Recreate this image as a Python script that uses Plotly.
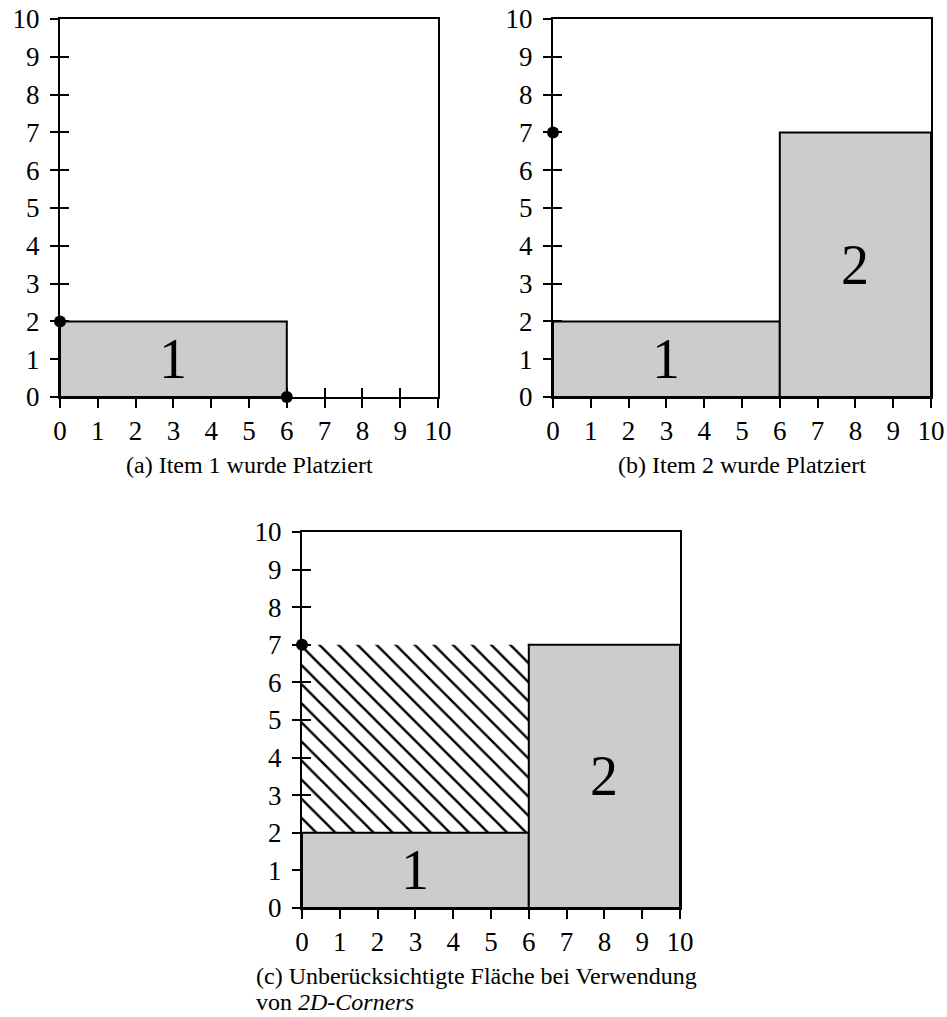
import plotly.graph_objects as go

# Grid ticks shared by every panel
ticks = list(range(0, 11))

# Placed items: id, x-extent, y-extent
item_ids = ["1", "2"]
item_x = [(0, 6), (6, 10)]
item_y = [(0, 2), (0, 7)]
item_label_pos = [(3, 1), (8, 3.5)]

# Which items are shown in each panel
panel_items = [[0], [0, 1], [0, 1]]

# Candidate corner points per panel
corner_x = [[0, 6], [0], [0]]
corner_y = [[2, 0], [7], [7]]

# Area that is not considered (panel c only)
gap_x = (0, 6)
gap_y = (2, 7)

captions = [
    ["(a) Item 1 wurde Platziert"],
    ["(b) Item 2 wurde Platziert"],
    ["(c) Unberücksichtigte Fläche bei Verwendung", "von <i>2D-Corners</i>"],
]

W, H = 947, 1017
FONT = "Liberation Serif"
GREY = "#cccccc"

# Panel boxes in pixels: left, right, top, bottom
panel_px = [(60, 438, 19, 397), (553, 931, 19, 397), (302, 680, 532, 908)]

fig = go.Figure()
layout = dict(
    template="none",
    width=W, height=H,
    margin=dict(l=0, r=0, t=0, b=0, pad=0, autoexpand=False),
    paper_bgcolor="white", plot_bgcolor="white",
    showlegend=False,
    font=dict(family=FONT, color="black"),
)
annotations = []

for p, (l, r, t, b) in enumerate(panel_px):
    k = p + 1
    ko = p + 4
    xs = "" if k == 1 else str(k)
    ys = xs
    xo = str(ko)
    xdom = [l / W, r / W]
    ydom = [1 - b / H, 1 - t / H]

    common = dict(
        range=[0, 10], tickvals=ticks, showgrid=False, zeroline=False,
        linecolor="black", linewidth=2, tickcolor="black", tickwidth=2,
        layer="below traces", fixedrange=True, automargin=False,
    )
    layout["xaxis" + xs] = dict(
        common, domain=xdom, anchor="y" + ys, showline=True, mirror=True,
        ticks="outside", ticklen=9, ticklabelstandoff=0,
        tickfont=dict(family=FONT, size=27, color="black"),
    )
    layout["yaxis" + ys] = dict(
        common, domain=ydom, anchor="x" + xs, showline=True, mirror=True,
        ticks="outside", ticklen=8, ticklabelstandoff=5,
        tickfont=dict(family=FONT, size=27, color="black"),
    )
    # inner halves of the crossing tick marks
    layout["xaxis" + xo] = dict(
        common, overlaying="x" + xs, anchor="y" + xo, showline=False,
        ticks="inside", ticklen=9, showticklabels=False,
    )
    layout["yaxis" + xo] = dict(
        common, overlaying="y" + ys, anchor="x" + xo, showline=False,
        ticks="inside", ticklen=9, showticklabels=False,
    )
    fig.add_trace(go.Scatter(
        x=[None], y=[None], xaxis="x" + xo, yaxis="y" + xo,
        mode="markers", hoverinfo="skip", showlegend=False,
    ))

    # hatched, unconsidered area
    if p == 2:
        fig.add_trace(go.Scatter(
            x=[gap_x[0], gap_x[1], gap_x[1], gap_x[0], gap_x[0]],
            y=[gap_y[0], gap_y[0], gap_y[1], gap_y[1], gap_y[0]],
            mode="lines", fill="toself", fillcolor="rgba(0,0,0,0)",
            fillpattern=dict(shape="\\", size=13.5, solidity=0.18,
                             fgcolor="black", bgcolor="rgba(0,0,0,0)"),
            line=dict(width=0, color="rgba(0,0,0,0)"),
            xaxis="x" + xs, yaxis="y" + ys, hoverinfo="skip",
        ))

    # placed items
    for i in panel_items[p]:
        x0, x1 = item_x[i]
        y0, y1 = item_y[i]
        fig.add_trace(go.Scatter(
            x=[x0, x1, x1, x0, x0], y=[y0, y0, y1, y1, y0],
            mode="lines", fill="toself", fillcolor=GREY,
            line=dict(color="black", width=2),
            xaxis="x" + xs, yaxis="y" + ys, hoverinfo="skip",
        ))
        lx, ly = item_label_pos[i]
        annotations.append(dict(
            x=lx, y=ly, xref="x" + xs, yref="y" + ys, text=item_ids[i],
            showarrow=False, font=dict(family=FONT, size=56, color="black"),
        ))

    # corner points
    fig.add_trace(go.Scatter(
        x=corner_x[p], y=corner_y[p], mode="markers",
        marker=dict(color="black", size=12),
        cliponaxis=False, xaxis="x" + xs, yaxis="y" + ys, hoverinfo="skip",
    ))

# captions under each panel
cap_font = dict(family=FONT, size=24, color="black")
for p, (l, r, t, b) in enumerate(panel_px[:2]):
    annotations.append(dict(
        x=(l + r) / 2 / W, y=1 - 465 / H, xref="paper", yref="paper",
        text=captions[p][0], showarrow=False, xanchor="center",
        yanchor="middle", font=cap_font,
    ))
for j, line_y in enumerate([976, 1002]):
    annotations.append(dict(
        x=254 / W, y=1 - line_y / H, xref="paper", yref="paper",
        text=captions[2][j], showarrow=False, xanchor="left",
        yanchor="middle", align="left", font=cap_font,
    ))

layout["annotations"] = annotations
fig.update_layout(**layout)
fig.write_html("out.html")
